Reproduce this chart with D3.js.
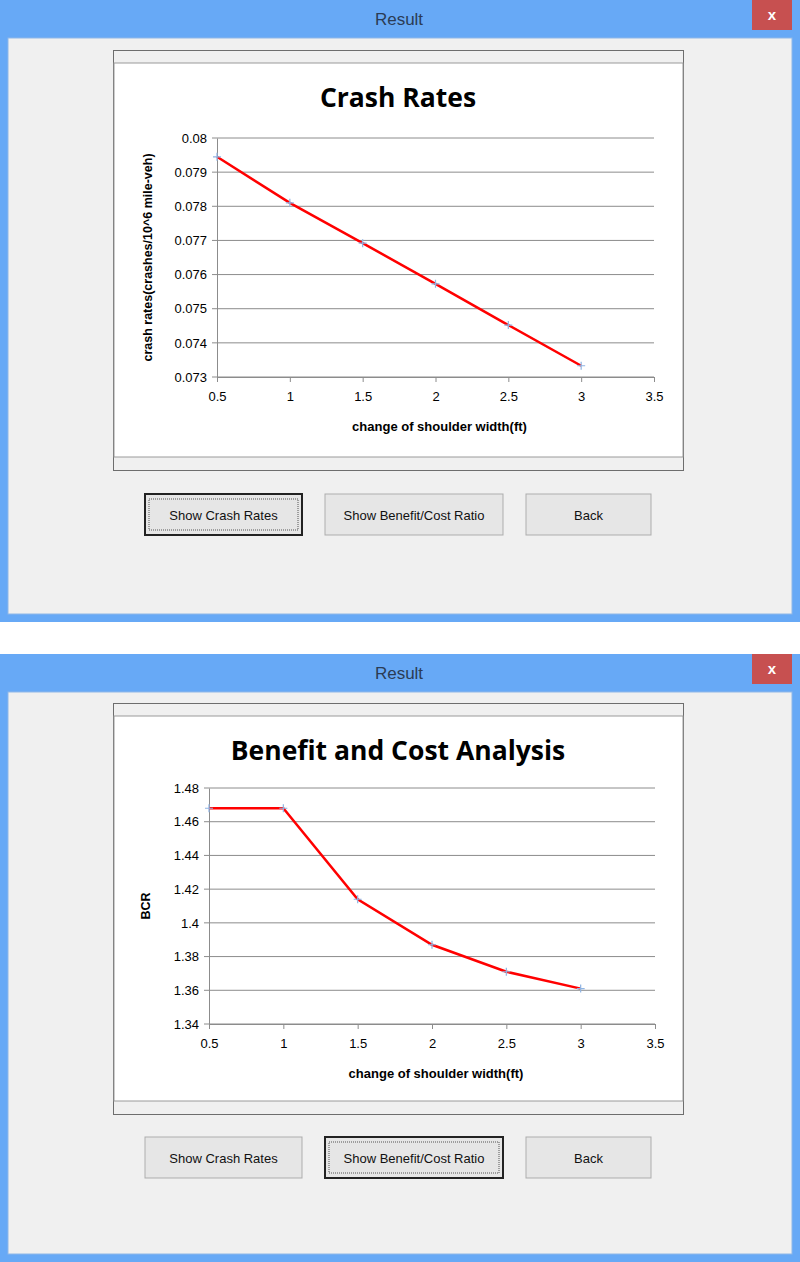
<!DOCTYPE html>
<html>
<head>
<meta charset="utf-8">
<script src="https://cdn.jsdelivr.net/npm/d3@7"></script>
<style>
  body { margin: 0; background: #fff; }
  svg { display: block; }
</style>
</head>
<body>
<svg id="root" width="800" height="1262"></svg>
<script>
// Chart data
const widths = [0.5, 1, 1.5, 2, 2.5, 3];
const crashRates = [0.07945, 0.0781, 0.07692, 0.07573, 0.07452, 0.07333];
const bcrValues = [1.468, 1.468, 1.414, 1.387, 1.371, 1.361];
const xTicks = [0.5, 1, 1.5, 2, 2.5, 3, 3.5];
const crashTicks = [0.073, 0.074, 0.075, 0.076, 0.077, 0.078, 0.079, 0.08];
const bcrTicks = [1.34, 1.36, 1.38, 1.4, 1.42, 1.44, 1.46, 1.48];
const buttonLabels = ['Show Crash Rates', 'Show Benefit/Cost Ratio', 'Back'];

const svg = d3.select('#root');
const uiFont = 'Liberation Sans, Arial, sans-serif';

function windowFrame(g, top, height, active) {
  g.append('rect').attr('x', 0).attr('y', top).attr('width', 800).attr('height', height)
      .attr('fill', '#67a9f6');
  g.append('rect').attr('x', 8).attr('y', top + 38).attr('width', 784).attr('height', height - 46)
      .attr('fill', '#f0f0f0').attr('stroke', '#8fb8e8');
  g.append('text').attr('x', 399).attr('y', top + 25).attr('text-anchor', 'middle')
      .attr('font-family', uiFont).attr('font-size', 17).attr('fill', '#2b3c55').text('Result');
  g.append('rect').attr('x', 752).attr('y', top).attr('width', 40).attr('height', 30)
      .attr('fill', '#c75050');
  g.append('text').attr('x', 772).attr('y', top + 20).attr('text-anchor', 'middle')
      .attr('font-family', uiFont).attr('font-size', 15).attr('font-weight', 'bold')
      .attr('fill', '#fff').text('x');

  // buttons
  const bx = [[145, 157], [325, 178], [526, 125]];
  const by = top + (top === 0 ? 494 : 483);
  bx.forEach(([x, w], i) => {
    const focused = i === active;
    g.append('rect').attr('x', x).attr('y', by).attr('width', w).attr('height', 41)
        .attr('fill', '#e6e6e6').attr('stroke', focused ? '#222' : '#adadad')
        .attr('stroke-width', focused ? 2 : 1);
    if (focused) {
      g.append('rect').attr('x', x + 4).attr('y', by + 5).attr('width', w - 8).attr('height', 31)
          .attr('fill', 'none').attr('stroke', '#555').attr('stroke-dasharray', '1,1');
    }
    g.append('text').attr('x', x + w / 2).attr('y', by + 26).attr('text-anchor', 'middle')
        .attr('font-family', uiFont).attr('font-size', 13).attr('fill', '#111')
        .text(buttonLabels[i]);
  });
}

function chart(g, top, cfg) {
  // frame with top/bottom strips
  g.append('rect').attr('x', 113.5).attr('y', top + 0.5).attr('width', 570).attr('height', cfg.frameH)
      .attr('fill', '#f0f0f0').attr('stroke', '#6d6d6d');
  g.append('rect').attr('x', 114).attr('y', top + 13).attr('width', 569).attr('height', cfg.frameH - 26)
      .attr('fill', '#fff').attr('stroke', '#9a9a9a');

  const x = d3.scaleLinear().domain([0.5, 3.5]).range([cfg.left, cfg.right]);
  const y = d3.scaleLinear().domain(cfg.domain).range([top + cfg.bottom, top + cfg.top]);

  g.append('text').attr('x', 398).attr('y', top + cfg.titleY).attr('text-anchor', 'middle')
      .attr('font-family', 'Open Sans, sans-serif').attr('font-weight', 'bold')
      .attr('font-size', 26.5).attr('fill', '#000').text(cfg.title);

  // gridlines
  g.append('g').selectAll('line').data(cfg.yTicks).join('line')
      .attr('x1', cfg.left - 5).attr('x2', cfg.right)
      .attr('y1', d => y(d)).attr('y2', d => y(d))
      .attr('stroke', '#8c8c8c').attr('stroke-width', 1);

  const yAxis = g.append('g').attr('transform', `translate(${cfg.left},0)`)
      .call(d3.axisLeft(y).tickValues(cfg.yTicks).tickSize(0).tickPadding(10)
        .tickFormat(d => String(+d.toFixed(3))));
  const xAxis = g.append('g').attr('transform', `translate(0,${top + cfg.bottom})`)
      .call(d3.axisBottom(x).tickValues(xTicks).tickSize(5).tickPadding(10)
        .tickFormat(d => String(d)));
  [yAxis, xAxis].forEach(a => {
    a.selectAll('text').attr('font-family', uiFont).attr('font-size', 13).attr('fill', '#000');
    a.selectAll('line,path').attr('stroke', '#8c8c8c');
  });

  const line = d3.line().x((d, i) => x(widths[i])).y(d => y(d));
  g.append('path').datum(cfg.values).attr('d', line)
      .attr('fill', 'none').attr('stroke', '#ff0000').attr('stroke-width', 2.5);
  g.append('g').selectAll('path').data(cfg.values).join('path')
      .attr('d', (d, i) => {
        const px = x(widths[i]), py = y(d);
        return `M${px - 4},${py}H${px + 4}M${px},${py - 4}V${py + 4}`;
      })
      .attr('stroke', '#8fb4e3').attr('stroke-width', 1.2);

  g.append('text').attr('x', (cfg.left + cfg.right) / 2 + 4).attr('y', top + cfg.bottom + 54)
      .attr('text-anchor', 'middle').attr('font-family', uiFont).attr('font-weight', 'bold')
      .attr('font-size', 13).text('change of shoulder width(ft)');
  g.append('text')
      .attr('transform', `translate(${cfg.yLabelX},${top + (cfg.top + cfg.bottom) / 2}) rotate(-90)`)
      .attr('text-anchor', 'middle').attr('font-family', uiFont).attr('font-weight', 'bold')
      .attr('font-size', 12.5).text(cfg.yLabel);
}

const w1 = svg.append('g');
windowFrame(w1, 0, 622, 0);
chart(w1, 50, {
  frameH: 420, left: 217, right: 654, top: 88, bottom: 327, titleY: 57,
  domain: [0.073, 0.08], yTicks: crashTicks, values: crashRates,
  title: 'Crash Rates', yLabel: 'crash rates(crashes/10^6 mile-veh)', yLabelX: 152
});

const w2 = svg.append('g');
windowFrame(w2, 654, 608, 1);
chart(w2, 703, {
  frameH: 411, left: 209, right: 655, top: 85, bottom: 321, titleY: 57,
  domain: [1.34, 1.48], yTicks: bcrTicks, values: bcrValues,
  title: 'Benefit and Cost Analysis', yLabel: 'BCR', yLabelX: 150
});
</script>
</body>
</html>
